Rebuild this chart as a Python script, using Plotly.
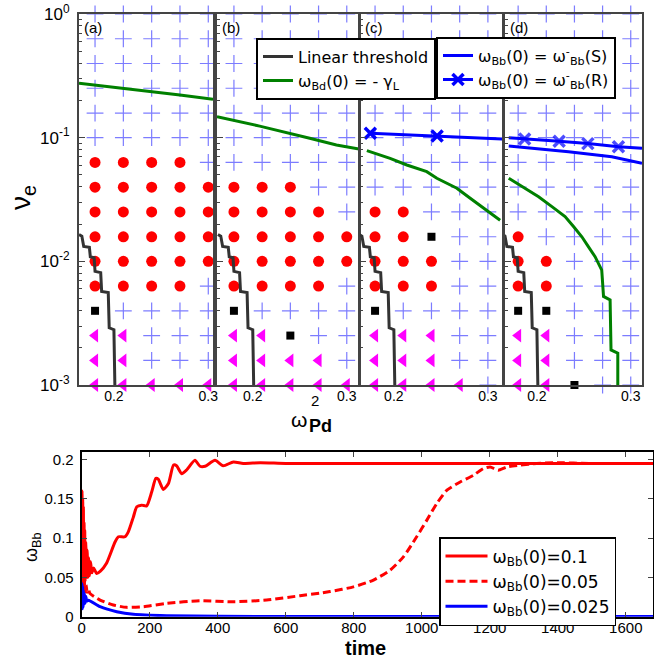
import plotly.graph_objects as go

W, H = 654, 659

# ---------------- top panels: parameter scan ----------------
OMEGA_GRID = [0.18, 0.21, 0.24, 0.27, 0.30]
NU_GRID = [0.001, 0.00158, 0.00251, 0.00398, 0.00631, 0.01, 0.0158, 0.0251,
           0.0398, 0.0631, 0.1, 0.158, 0.251, 0.398, 0.631, 1.0]

# one string per NU_GRID row (bottom -> top), one char per OMEGA_GRID column
# T = magenta triangle, S = black square, D = red dot, + = blue cross
OUTCOME_A = ["TTTTT", "TT+++", "TT+++", "S++++", "DDDD+", "DDDDD", "DDDDD", "DDDDD",
             "DDDDD", "DDDD+", "+++++", "+++++", "+++++", "+++++", "+++++", "+++++"]
OUTCOME_B = ["TTTTT", "TTTT+", "TTS++", "S++++", "DDDD+", "DDDDD", "DDDDD", "DDDD+",
             "DDD++", "+++++", "+++++", "+++++", "+++++", "+++++", "+++++", "+++++"]
OUTCOME_C = ["TTTT+", "TTT++", "TTT++", "S++++", "DDD++", "DDD++", "DDS++", "DD+++",
             "+++++", "+++++", "+++++", "+++++", "+++++", "+++++", "+++++", "+++++"]
OUTCOME_D = ["TTS++", "TT+++", "TT+++", "SS+++", "DD+++", "DD+++", "D++++", "+++++",
             "+++++", "+++++", "+++++", "+++++", "+++++", "+++++", "+++++", "+++++"]

THRESH_X = [0.163, 0.166, 0.168, 0.174, 0.175, 0.179, 0.180, 0.186, 0.187, 0.194, 0.195, 0.200, 0.201]
THRESH_NU = [0.0165, 0.0160, 0.0132, 0.0130, 0.0109, 0.0107, 0.0083, 0.0081, 0.0057, 0.0056,
             0.0029, 0.0028, 0.001]

GREEN_A_X = [0.163, 0.21, 0.27, 0.305]
GREEN_A_NU = [0.275, 0.251, 0.221, 0.204]
GREEN_B_X = [0.162, 0.2074, 0.2606, 0.289, 0.313]
GREEN_B_NU = [0.148, 0.124, 0.0989, 0.0873, 0.081]
GREEN_C_X = [0.1713, 0.196, 0.2138, 0.235, 0.2457, 0.267, 0.2812, 0.2954, 0.313]
GREEN_C_NU = [0.0785, 0.068, 0.0601, 0.0531, 0.047, 0.039, 0.0324, 0.0269, 0.0215]
GREEN_D_X = [0.170, 0.1876, 0.2018, 0.216, 0.230, 0.239, 0.2479, 0.255, 0.262, 0.2691,
             0.271, 0.278, 0.279, 0.2862, 0.2862]
GREEN_D_NU = [0.047, 0.039, 0.0333, 0.0277, 0.023, 0.0191, 0.0158, 0.0131, 0.0109, 0.0085,
              0.0052, 0.00488, 0.00192, 0.00181, 0.001]

BLUE_R_C_X = [0.175, 0.246, 0.316]
BLUE_R_C_NU = [0.1086, 0.1032, 0.0976]
BLUE_R_D_X = [0.170, 0.1869, 0.2237, 0.2543, 0.2869, 0.312]
BLUE_R_D_NU = [0.100, 0.0975, 0.0935, 0.0895, 0.0845, 0.082]
BLUE_S_D_X = [0.170, 0.2337, 0.2798, 0.312]
BLUE_S_D_NU = [0.0857, 0.077, 0.0702, 0.062]

PANEL_LABELS = ["(a)", "(b)", "(c)", "(d)"]
X_TICKS = [0.2, 0.3]
X_TICK_TEXT = ["0.2", "0.3"]
Y_TICKS = [0.001, 0.01, 0.1, 1]
Y_TICK_TEXT = ["10<sup>-3</sup>", "10<sup>-2</sup>", "10<sup>-1</sup>", "10<sup>0</sup>"]

# ---------------- bottom panel: time traces ----------------
T_01 = [0, 1, 2, 3, 4, 5, 6, 7, 8, 9, 10, 12, 14, 16, 18, 20, 23, 26, 30, 35, 44, 55, 73, 98,
        108, 127, 137, 152, 162, 176, 191, 206, 218, 225, 240, 255, 270, 279, 294, 309, 333,
        348, 363, 392, 416, 446, 475, 525, 600, 800, 1000, 1200, 1400, 1700]
W_01 = [0.1, 0.16, 0.05, 0.15, 0.04, 0.14, 0.035, 0.12, 0.04, 0.11, 0.045, 0.095, 0.05, 0.085,
        0.05, 0.075, 0.052, 0.07, 0.056, 0.062, 0.055, 0.058, 0.068, 0.095, 0.1017, 0.1017,
        0.108, 0.127, 0.14, 0.142, 0.141, 0.159, 0.176, 0.175, 0.162, 0.1695, 0.193, 0.192,
        0.182, 0.187, 0.199, 0.1915, 0.1915, 0.199, 0.192, 0.197, 0.195, 0.196, 0.195, 0.195,
        0.195, 0.195, 0.195, 0.195]
T_005 = [0, 2, 4, 6, 8, 10, 13, 16, 20, 24, 54, 93, 132, 181, 250, 348, 446, 544, 642, 700,
         730, 799, 858, 907, 946, 985, 1015, 1044, 1074, 1113, 1152, 1181, 1201, 1225, 1250,
         1289, 1338, 1387, 1500, 1700]
W_005 = [0.05, 0.035, 0.048, 0.033, 0.045, 0.032, 0.04, 0.031, 0.035, 0.0297, 0.0212, 0.0149,
         0.0119, 0.0127, 0.017, 0.0203, 0.019, 0.0212, 0.0267, 0.030, 0.032, 0.038, 0.0466,
         0.0593, 0.0762, 0.1017, 0.1229, 0.144, 0.161, 0.1715, 0.180, 0.1885, 0.1906, 0.1864,
         0.1906, 0.1928, 0.195, 0.196, 0.195, 0.195]
T_0025 = [0, 1, 2, 3, 4, 5, 6, 8, 10, 12, 15, 20, 54, 103, 152, 250, 400, 700, 1000, 1700]
W_0025 = [0.025, 0.042, 0.01, 0.038, 0.012, 0.034, 0.015, 0.03, 0.017, 0.026, 0.02, 0.021,
          0.0127, 0.0064, 0.003, 0.0012, 0.0005, 0.0003, 0.0002, 0.0001]
TIME_TICKS = [0, 200, 400, 600, 800, 1000, 1200, 1400, 1600]
WBB_TICKS = [0, 0.05, 0.1, 0.15, 0.2]
WBB_TICK_TEXT = ["0", "0.05", "0.1", "0.15", "0.2"]

# ---------------- layout geometry (pixels) ----------------
TOP_Y = (14, 385)
PANELS_PX = [(79, 213), (217, 359), (360, 502), (505, 642)]
PANEL_RANGES = [(0.163, 0.305), (0.162, 0.313), (0.164, 0.315), (0.166, 0.312)]
BOT_X = (81.7, 653)
BOT_Y = (451.7, 616.7)

FRAME = "#444444"
TXT_FONT = "Liberation Sans, Arial, sans-serif"
LEG_FONT = "DejaVu Sans, sans-serif"


def xd(a, b):
    return [a / W, b / W]


def yd(top, bot):
    return [1 - bot / H, 1 - top / H]


fig = go.Figure()

STYLE = {
    "+": dict(symbol="cross-thin", size=12, color="rgba(80,80,255,0.75)",
              line=dict(width=1.2, color="rgba(80,80,255,0.75)")),
    "D": dict(symbol="circle", size=11, color="#ff0000", line=dict(width=0)),
    "S": dict(symbol="square", size=8, color="#000000", line=dict(width=0)),
    "T": dict(symbol="triangle-left", size=12, color="#ff00ff", line=dict(width=0)),
}

outcomes = [OUTCOME_A, OUTCOME_B, OUTCOME_C, OUTCOME_D]
greens = [(GREEN_A_X, GREEN_A_NU), (GREEN_B_X, GREEN_B_NU),
          (GREEN_C_X, GREEN_C_NU), (GREEN_D_X, GREEN_D_NU)]

for p in range(4):
    xa = "x" if p == 0 else f"x{p + 1}"
    ya = "y" if p == 0 else f"y{p + 1}"
    for code in ["+", "D", "S", "T"]:
        xs, ys = [], []
        for r, row in enumerate(outcomes[p]):
            for c, ch in enumerate(row):
                if ch == code:
                    xs.append(OMEGA_GRID[c])
                    ys.append(NU_GRID[r])
        if xs:
            fig.add_trace(go.Scatter(x=xs, y=ys, mode="markers", marker=STYLE[code],
                                     xaxis=xa, yaxis=ya, showlegend=False, cliponaxis=False,
                                     hoverinfo="skip"))
    fig.add_trace(go.Scatter(x=THRESH_X, y=THRESH_NU, mode="lines",
                             line=dict(color="#333333", width=3),
                             xaxis=xa, yaxis=ya, name="Linear threshold",
                             showlegend=(p == 0), legend="legend"))
    gx, gy = greens[p]
    fig.add_trace(go.Scatter(x=gx, y=gy, mode="lines", line=dict(color="#008000", width=3),
                             xaxis=xa, yaxis=ya,
                             name="ω<sub>Bd</sub>(0) = - γ<sub>L</sub>",
                             showlegend=(p == 0), legend="legend"))

fig.add_trace(go.Scatter(x=BLUE_S_D_X, y=BLUE_S_D_NU, mode="lines",
                         line=dict(color="#0000ff", width=3), xaxis="x4", yaxis="y4",
                         name="ω<sub>Bb</sub>(0) = ω<sup>-</sup><sub>Bb</sub>(S)",
                         legend="legend2", showlegend=True))
fig.add_trace(go.Scatter(x=BLUE_R_C_X, y=BLUE_R_C_NU, mode="lines+markers",
                         line=dict(color="#0000ff", width=3),
                         marker=dict(symbol="x-thin", size=11, color="#0000ff",
                                     line=dict(width=3.5, color="#0000ff")),
                         xaxis="x3", yaxis="y3",
                         name="ω<sub>Bb</sub>(0) = ω<sup>-</sup><sub>Bb</sub>(R)",
                         legend="legend2", showlegend=True))
fig.add_trace(go.Scatter(x=BLUE_R_D_X, y=BLUE_R_D_NU, mode="lines+markers",
                         line=dict(color="#0000ff", width=3),
                         marker=dict(symbol="x-thin", size=[0, 11, 11, 11, 11, 0], color="#0000ff",
                                     line=dict(width=3.5, color="#0000ff")),
                         xaxis="x4", yaxis="y4", showlegend=False))

fig.add_trace(go.Scatter(x=T_01, y=W_01, mode="lines",
                         line=dict(color="#ff0000", width=3, shape="spline", smoothing=0.6),
                         xaxis="x5", yaxis="y5", name="ω<sub>Bb</sub>(0)=0.1", legend="legend3"))
fig.add_trace(go.Scatter(x=T_005, y=W_005, mode="lines",
                         line=dict(color="#ff0000", width=3, dash="8px,4px", shape="spline",
                                   smoothing=0.6),
                         xaxis="x5", yaxis="y5", name="ω<sub>Bb</sub>(0)=0.05", legend="legend3"))
fig.add_trace(go.Scatter(x=T_0025, y=W_0025, mode="lines",
                         line=dict(color="#0000ff", width=3, shape="spline", smoothing=0.6),
                         xaxis="x5", yaxis="y5", name="ω<sub>Bb</sub>(0)=0.025", legend="legend3"))

layout = dict(
    width=W, height=H, margin=dict(l=0, r=0, t=0, b=0, autoexpand=False),
    paper_bgcolor="white", plot_bgcolor="white",
    font=dict(family=TXT_FONT, color="black", size=14),
    showlegend=True,
)

for p in range(4):
    xk = "xaxis" if p == 0 else f"xaxis{p + 1}"
    yk = "yaxis" if p == 0 else f"yaxis{p + 1}"
    xn = "x" if p == 0 else f"x{p + 1}"
    yn = "y" if p == 0 else f"y{p + 1}"
    a, b = PANELS_PX[p]
    layout[xk] = dict(domain=xd(a, b), range=list(PANEL_RANGES[p]), anchor=yn,
                      automargin=False,
                      showline=True, mirror=True, linecolor=FRAME, linewidth=2,
                      showgrid=False, zeroline=False, ticks="",
                      tickvals=X_TICKS, ticktext=X_TICK_TEXT, ticklabelstandoff=-3,
                      tickfont=dict(size=14, family=TXT_FONT))
    layout[yk] = dict(domain=yd(*TOP_Y), type="log", range=[-3, 0], anchor=xn,
                      automargin=False,
                      showline=True, mirror=True, linecolor=FRAME, linewidth=2,
                      showgrid=False, zeroline=False,
                      ticks="inside", ticklen=6, tickcolor=FRAME, tickwidth=1,
                      tickvals=Y_TICKS, ticktext=Y_TICK_TEXT,
                      showticklabels=(p == 0), ticklabelstandoff=4,
                      tickfont=dict(size=17, family=TXT_FONT),
                      minor=dict(ticks="inside", ticklen=3, tickcolor=FRAME,
                                 tickvals=[m * 10 ** e for e in (-3, -2, -1) for m in range(2, 10)]))

layout["xaxis5"] = dict(domain=xd(*BOT_X), range=[0, 1680], anchor="y5", automargin=False,
                        showline=True, mirror="ticks", linecolor="black", linewidth=2,
                        showgrid=False, zeroline=False, ticks="inside", ticklen=5,
                        tickvals=TIME_TICKS, ticklabelstandoff=-4,
                        tickfont=dict(size=15, family=TXT_FONT))
layout["yaxis5"] = dict(domain=yd(*BOT_Y), range=[0, 0.21], anchor="x5", automargin=False,
                        showline=True, mirror="ticks", linecolor="black", linewidth=2,
                        showgrid=False, zeroline=False, ticks="inside", ticklen=5,
                        tickvals=WBB_TICKS, ticktext=WBB_TICK_TEXT, ticklabelstandoff=3,
                        tickfont=dict(size=15, family=TXT_FONT))

legend_common = dict(xanchor="left", yanchor="top", bgcolor="white", bordercolor="black",
                     borderwidth=2, font=dict(family=LEG_FONT, size=16, color="black"),
                     itemwidth=30, tracegroupgap=0)
layout["legend"] = dict(legend_common, x=256 / W, y=1 - 37.7 / H)
layout["legend2"] = dict(legend_common, x=436 / W, y=1 - 36.7 / H)
layout["legend3"] = dict(legend_common, x=439 / W, y=1 - 537 / H, borderwidth=1.5,
                         itemwidth=42, font=dict(family=LEG_FONT, size=17, color="black"))


def note(text, px, py, size, angle=0, bold=False):
    return dict(text=f"<b>{text}</b>" if bold else text, x=px / W, y=1 - py / H,
                xref="paper", yref="paper", xanchor="center", yanchor="middle",
                textangle=angle, showarrow=False, font=dict(size=size, family=TXT_FONT))


ann = []
for p, lab in enumerate(PANEL_LABELS):
    a, _ = PANELS_PX[p]
    ann.append(dict(text=lab, x=(a + 3) / W, y=1 - 28 / H, xref="paper", yref="paper",
                    xanchor="left", yanchor="middle", showarrow=False,
                    font=dict(size=15, family=TXT_FONT)))
ann += [
    note("ν<sub>e</sub>", 22, 197, 28, angle=-90),
    note("ω", 299, 419, 21),
    note("2", 315, 400, 15),
    note("Pd", 320, 426, 18, bold=True),
    note("time", 365, 648, 20, bold=True),
    note("ω<sub>Bb</sub>", 32, 548, 18, angle=-90),
]
layout["annotations"] = ann

fig.update_layout(**layout)
fig.write_html("out.html", config={"displayModeBar": False},
               post_script="document.body.style.margin='0';document.body.style.overflow='hidden';")
